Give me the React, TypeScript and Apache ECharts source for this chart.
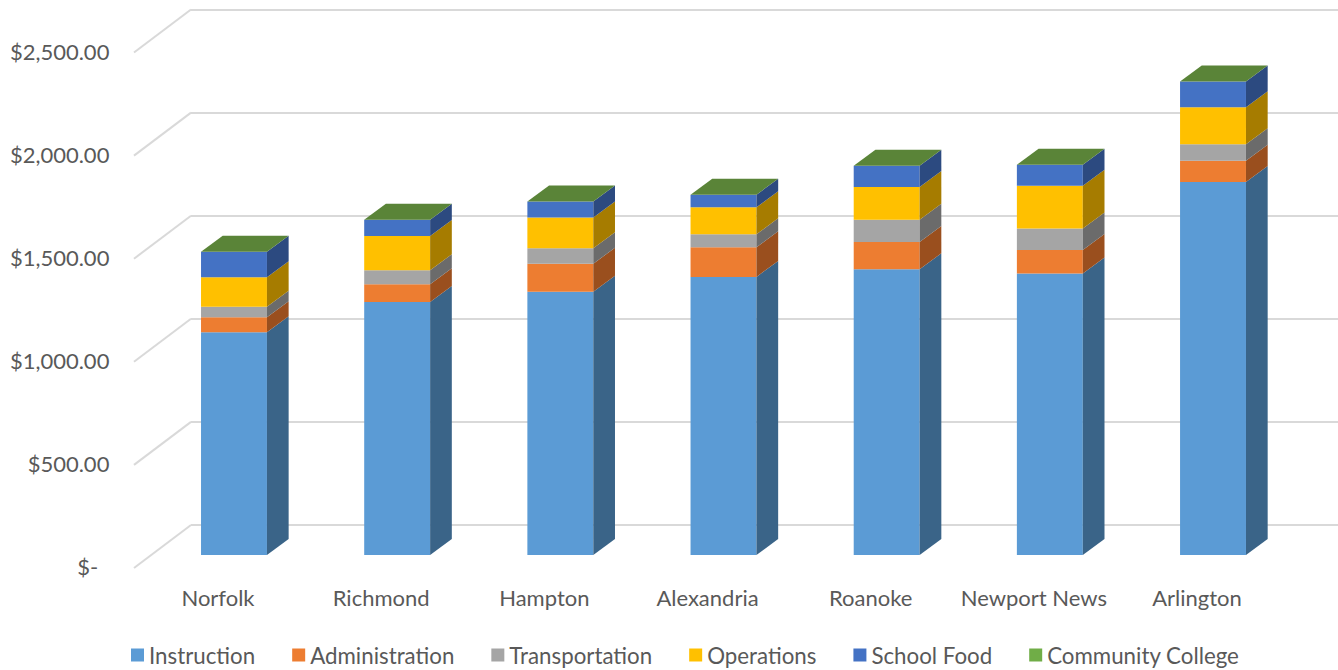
import React, { useEffect, useRef } from "react";
import * as echarts from "echarts";

const categories = ["Norfolk", "Richmond", "Hampton", "Alexandria", "Roanoke", "Newport News", "Arlington"];
const instruction = [1081, 1228, 1278, 1350, 1387, 1366, 1811];
const administration = [73, 86, 136, 144, 133, 114, 103];
const transportation = [51, 68, 75, 63, 107, 105, 80];
const operations = [143, 167, 149, 131, 159, 207, 180];
const schoolFood = [124, 78, 78, 61, 103, 103, 124];
const communityCollege = [0, 0, 0, 0, 0, 0, 0];
const yTicks = [0, 500, 1000, 1500, 2000, 2500];

const seriesDefs = [
  { name: "Instruction", values: instruction, front: "#5B9BD5", side: "#3A6488" },
  { name: "Administration", values: administration, front: "#ED7D31", side: "#9A4F1E" },
  { name: "Transportation", values: transportation, front: "#A5A5A5", side: "#6B6B6B" },
  { name: "Operations", values: operations, front: "#FFC000", side: "#A67C00" },
  { name: "School Food", values: schoolFood, front: "#4472C4", side: "#2C4A80" },
  { name: "Community College", values: communityCollege, front: "#70AD47", side: "#4A7030", top: "#5A8438" },
];

const FONT = "Lato";
const TEXT = "#595959";
const GRID_LINE = "#D9D9D9";
const DEPTH_X = 21.7;
const DEPTH_Y = 16;
const BAR_RATIO = 0.404;
const WALL_X = 57;
const WALL_Y = 43;

function formatMoney(v: number) {
  if (v === 0) return "$-\u00A0\u00A0";
  return "$" + v.toLocaleString("en-US", { minimumFractionDigits: 2, maximumFractionDigits: 2 });
}

function buildOption() {
  const base = categories.map(() => 0);
  const barSeries = seriesDefs.map((def, sIdx) => {
    const data = def.values.map((v, i) => {
      const row = [i, base[i], base[i] + v];
      base[i] += v;
      return row;
    });
    return {
      type: "custom",
      name: def.name,
      xAxisIndex: 0,
      yAxisIndex: 0,
      itemStyle: { color: def.front },
      encode: { x: 0, y: [1, 2] },
      clip: false,
      z: 5,
      data,
      renderItem: (_p: any, api: any) => {
        const cat = api.value(0);
        const lo = api.coord([cat, api.value(1)]);
        const hi = api.coord([cat, api.value(2)]);
        const w = api.size([1, 0])[0] * BAR_RATIO;
        const x0 = lo[0] - w / 2;
        const x1 = lo[0] + w / 2;
        const children: any[] = [];
        if (lo[1] - hi[1] > 0) {
          children.push({
            type: "rect",
            shape: { x: x0, y: hi[1], width: w, height: lo[1] - hi[1] },
            style: { fill: def.front },
          });
          children.push({
            type: "polygon",
            shape: {
              points: [
                [x1, lo[1]],
                [x1 + DEPTH_X, lo[1] - DEPTH_Y],
                [x1 + DEPTH_X, hi[1] - DEPTH_Y],
                [x1, hi[1]],
              ],
            },
            style: { fill: def.side },
          });
        }
        if (sIdx === seriesDefs.length - 1) {
          children.push({
            type: "polygon",
            shape: {
              points: [
                [x0, hi[1]],
                [x1, hi[1]],
                [x1 + DEPTH_X, hi[1] - DEPTH_Y],
                [x0 + DEPTH_X, hi[1] - DEPTH_Y],
              ],
            },
            style: { fill: def.top },
          });
        }
        return { type: "group", children };
      },
    };
  });

  const diagonal = {
    type: "custom",
    xAxisIndex: 1,
    yAxisIndex: 1,
    silent: true,
    clip: false,
    z: 1,
    encode: { x: 0, y: 1 },
    data: yTicks.map((t) => [0, t]),
    renderItem: (_p: any, api: any) => {
      const p = api.coord([0, api.value(1)]);
      return {
        type: "line",
        shape: { x1: p[0], y1: p[1], x2: p[0] - WALL_X, y2: p[1] + WALL_Y },
        style: { stroke: GRID_LINE, lineWidth: 2, fill: "none" },
      };
    },
  };

  return {
    animation: false,
    backgroundColor: "#FFFFFF",
    legend: {
      data: seriesDefs.map((d) => d.name),
      left: 126,
      top: 639,
      icon: "rect",
      itemWidth: 13,
      itemHeight: 13,
      itemGap: 37,
      textStyle: { fontFamily: FONT, fontSize: 22.3, color: TEXT },
    },
    grid: [
      { left: 152.4, width: 1142.2, top: 40, height: 515 },
      { left: 191, right: 0, top: 9.5, height: 515.5 },
      { left: 136.4, width: 1142.2, top: 51.5, height: 515 },
    ],
    xAxis: [
      { gridIndex: 0, type: "category", data: categories, show: false },
      { gridIndex: 1, type: "value", min: 0, max: 1, show: false },
      {
        gridIndex: 2,
        type: "category",
        data: categories,
        axisLine: { show: false },
        axisTick: { show: false },
        splitLine: { show: false },
        axisLabel: { interval: 0, margin: 20, fontFamily: FONT, fontSize: 22, color: TEXT },
      },
    ],
    yAxis: [
      { gridIndex: 0, type: "value", min: 0, max: 2500, interval: 500, show: false },
      {
        gridIndex: 1,
        type: "value",
        min: 0,
        max: 2500,
        interval: 500,
        axisLine: { show: false },
        axisTick: { show: false },
        axisLabel: { show: false },
        splitLine: { show: true, lineStyle: { color: GRID_LINE, width: 2 } },
      },
      {
        gridIndex: 2,
        type: "value",
        min: 0,
        max: 2500,
        interval: 500,
        axisLine: { show: false },
        axisTick: { show: false },
        splitLine: { show: false },
        axisLabel: { margin: 27, fontFamily: FONT, fontSize: 22, color: TEXT, formatter: formatMoney },
      },
    ],
    series: [diagonal, ...barSeries],
  };
}

export default function App() {
  const ref = useRef<HTMLDivElement>(null);
  useEffect(() => {
    document.body.style.margin = "0";
    const chart = echarts.init(ref.current!, undefined, { renderer: "svg" });
    chart.setOption(buildOption() as any);
    return () => chart.dispose();
  }, []);
  return <div ref={ref} style={{ position: "fixed", left: 0, top: 0, width: 1338, height: 670 }} />;
}
